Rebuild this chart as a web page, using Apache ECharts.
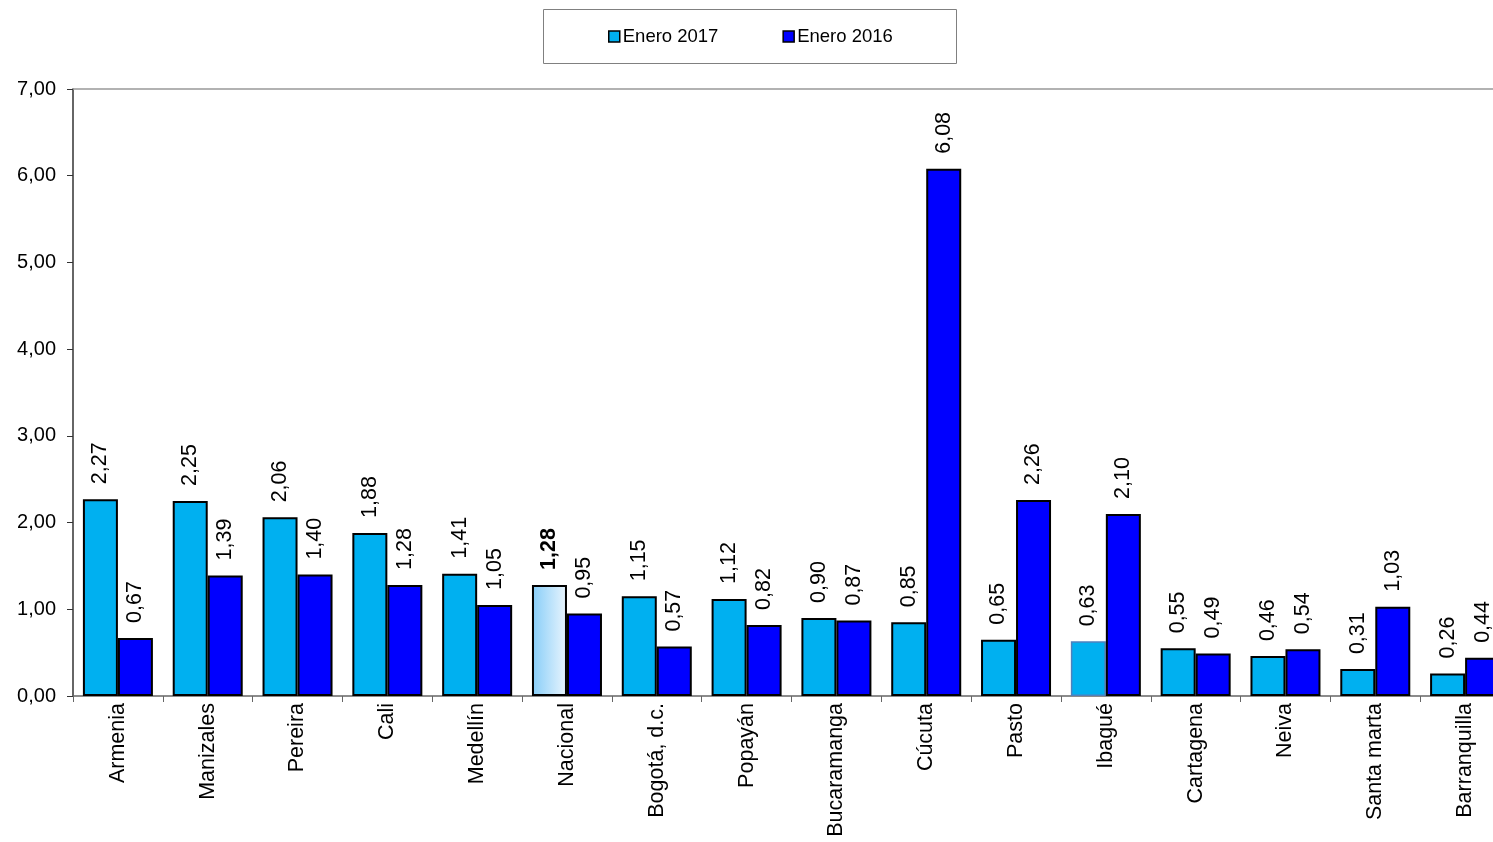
<!DOCTYPE html>
<html>
<head>
<meta charset="utf-8">
<script src="https://cdn.jsdelivr.net/npm/echarts@6/dist/echarts.min.js"></script>
<style>html,body{margin:0;padding:0;background:#fff;overflow:hidden;width:1493px;height:842px}#c{width:1510px;height:842px}</style>
</head>
<body>
<div id="c"></div>
<script>
var categories = ['Armenia','Manizales','Pereira','Cali','Medellín','Nacional','Bogotá, d.c.','Popayán','Bucaramanga','Cúcuta','Pasto','Ibagué','Cartagena','Neiva','Santa marta','Barranquilla'];
var enero2017 = [2.27,2.25,2.06,1.88,1.41,1.28,1.15,1.12,0.90,0.85,0.65,0.63,0.55,0.46,0.31,0.26];
var enero2016 = [0.67,1.39,1.40,1.28,1.05,0.95,0.57,0.82,0.87,6.08,2.26,2.10,0.49,0.54,1.03,0.44];
var yTicks = [0,1,2,3,4,5,6,7];

var FONT = 'Liberation Sans, Arial, sans-serif';
var C17 = '#00B0F0', C16 = '#0000FF';

function fmt(v){ return v.toFixed(2).replace('.', ','); }

var labelBase = {
  show: true, position: 'top', rotate: 90, align: 'left', verticalAlign: 'middle',
  distance: 15, color: '#000', fontSize: 21.5, fontFamily: FONT,
  formatter: function(p){ return fmt(p.value); }
};

var d17 = enero2017.map(function(v, i){
  var o = { value: v };
  if (categories[i] === 'Nacional') {
    o.itemStyle = { color: { type: 'linear', x: 0, y: 0, x2: 1, y2: 0,
      colorStops: [{offset: 0, color: '#86CDF8'}, {offset: 1, color: '#EAF5FD'}] } };
    o.label = { fontWeight: 'bold' };
  }
  if (categories[i] === 'Ibagué') {
    o.itemStyle = { borderColor: '#4F81BD', borderWidth: 1.5 };
  }
  return o;
});

var chart = echarts.init(document.getElementById('c'));
chart.setOption({
  animation: false,
  textStyle: { fontFamily: FONT },
  graphic: [{ type: 'rect', shape: { x: 543.5, y: 9.5, width: 413, height: 54 },
    style: { fill: 'none', stroke: '#808080', lineWidth: 1 }, z: 10 }],
  legend: {
    left: 603, top: 22, itemGap: 64, itemWidth: 11, itemHeight: 11,
    textStyle: { fontSize: 18.5, color: '#000', fontFamily: FONT, padding: [0, 0, 0, -2] },
    data: [
      { name: 'Enero 2017', icon: 'rect', itemStyle: { color: C17, borderColor: '#000', borderWidth: 1.5 } },
      { name: 'Enero 2016', icon: 'rect', itemStyle: { color: C16, borderColor: '#000', borderWidth: 1.5 } }
    ]
  },
  grid: { left: 73, right: 0, top: 89, bottom: 146, containLabel: false },
  xAxis: [{
    type: 'category', data: categories, position: 'bottom',
    axisLine: { lineStyle: { color: '#666', width: 1.5 } },
    axisTick: { show: true, alignWithLabel: false, length: 6, lineStyle: { color: '#666' } },
    axisLabel: { rotate: 90, fontSize: 21.5, color: '#000', fontFamily: FONT, margin: 7, interval: 0 }
  }, {
    type: 'category', data: categories, position: 'top',
    axisLine: { show: true, lineStyle: { color: '#999', width: 1.5 } },
    axisTick: { show: false }, axisLabel: { show: false }
  }],
  yAxis: {
    type: 'value', min: yTicks[0], max: yTicks[yTicks.length - 1], interval: 1,
    axisLine: { show: true, lineStyle: { color: '#333', width: 1.5 } },
    axisTick: { show: true, length: 6, lineStyle: { color: '#333' } },
    splitLine: { show: false },
    axisLabel: { fontSize: 20, color: '#000', fontFamily: FONT, margin: 17,
      formatter: function(v){ return fmt(v); } }
  },
  series: [{
    name: 'Enero 2017', type: 'bar', data: d17, barWidth: 35, barGap: '0%',
    itemStyle: { color: C17, borderColor: '#000', borderWidth: 2 },
    label: labelBase
  }, {
    name: 'Enero 2016', type: 'bar', data: enero2016, barWidth: 35, barGap: '0%',
    itemStyle: { color: C16, borderColor: '#000', borderWidth: 2 },
    label: labelBase
  }]
});
</script>
</body>
</html>
